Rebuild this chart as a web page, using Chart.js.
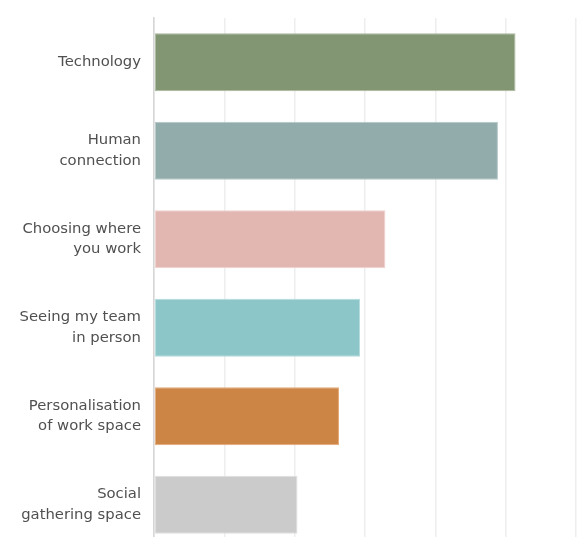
<!DOCTYPE html>
<html>
<head>
<meta charset="utf-8">
<script src="https://cdn.jsdelivr.net/npm/chart.js@4/dist/chart.umd.min.js"></script>
<style>
  html, body { margin: 0; padding: 0; background: #fff; overflow: hidden; }
  #wrap { width: 577px; height: 550px; }
</style>
</head>
<body>
<div id="wrap"><canvas id="chart"></canvas></div>
<script>
// категории и значения
const categories = [
  ['Technology'],
  ['Human', 'connection'],
  ['Choosing where', 'you work'],
  ['Seeing my team', 'in person'],
  ['Personalisation', 'of work space'],
  ['Social', 'gathering space'],
];
const values = [51.4, 48.9, 32.9, 29.3, 26.3, 20.4];
const barColors = ['#829673', '#92abab', '#e2b6b1', '#8dc6c8', '#cd8545', '#cbcbcb'];
const edgeColors = ['#a9b99d', '#b5c8c8', '#f0d2ce', '#b4dcdd', '#e2aa7a', '#dedede'];
const xTicks = [0, 10, 20, 30, 40, 50, 60];

new Chart(document.getElementById('chart'), {
  type: 'bar',
  data: {
    labels: categories,
    datasets: [{
      data: values,
      backgroundColor: barColors,
      borderColor: edgeColors,
      borderWidth: 1,
      borderSkipped: false,
      categoryPercentage: 1,
      barPercentage: 0.655,
    }],
  },
  options: {
    indexAxis: 'y',
    responsive: true,
    maintainAspectRatio: false,
    animation: false,
    layout: { padding: { top: 18, right: 1, bottom: 1, left: 0 } },
    plugins: { legend: { display: false }, tooltip: { enabled: false } },
    scales: {
      x: {
        min: xTicks[0],
        max: xTicks[xTicks.length - 1],
        afterBuildTicks: s => { s.ticks = xTicks.map(v => ({ value: v })); },
        afterFit: s => { s.height = 0; s.paddingLeft = 0; s.paddingRight = 0; },
        ticks: { display: false },
        grid: { color: '#eeeeee', drawTicks: false, lineWidth: 1.5 },
        border: { display: false },
      },
      y: {
        // ширина под подписи, без лишних отступов сверху/снизу
        afterFit: s => { s.width = 154; s.paddingTop = 0; s.paddingBottom = 0; },
        ticks: {
          color: '#505050',
          padding: 13,
          font: { family: 'DejaVu Sans', size: 14.8, lineHeight: 1.4 },
        },
        grid: { display: false, drawTicks: false },
        border: { display: true, color: '#d6d6d6', width: 1.5 },
      },
    },
  },
});
</script>
</body>
</html>
